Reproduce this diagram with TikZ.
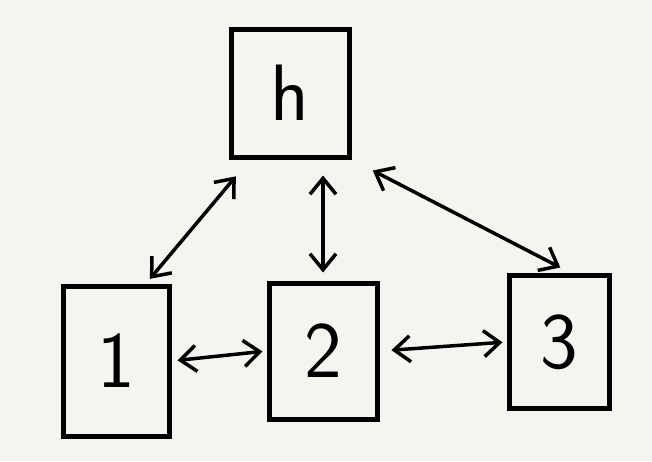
\documentclass[tikz,border=0pt]{standalone}
\usepackage{fontspec}
\usetikzlibrary{arrows.meta}

\definecolor{papel}{RGB}{245,244,240}

\tikzstyle{caja}= [rectangle,draw,black,line width=5pt,fill=papel,font=\sffamily\fontsize{80}{80}\selectfont]
\tikzstyle{flecha}= [black,line width=3.5pt,{Straight Barb[length=16pt,width=26pt]}-{Straight Barb[length=16pt,width=26pt]}]

\begin{document}
\begin{tikzpicture}[x=1pt,y=-1pt]
		\fill[papel] (0,0) rectangle (652,461);
		\useasboundingbox (0,0) rectangle (652,461);

		\node (h) at (290,93) [caja,minimum width=118pt,minimum height=128pt] {h};

		\node (1) at (116,361) [caja,minimum width=106pt,minimum height=150pt] {1};
		\node (2) at (323,351) [caja,minimum width=108pt,minimum height=136pt] {2};
		\node (3) at (559,342) [caja,minimum width=100pt,minimum height=133pt] {3};

		\path[flecha] ([xshift=-40pt]h.south) edge[shorten <=22pt,shorten >=6pt] node {} ([xshift=30pt]1.north);
		\path[flecha] ([xshift=33pt]h.south) edge[shorten <=16pt,shorten >=8pt] node {} ([xshift=0pt]2.north);
		\path[flecha] (h.south east) edge[shorten <=24pt,shorten >=12pt] node {} ([xshift=12pt]3.north);

		\path[flecha] (1.east) edge[shorten <=6pt,shorten >=4pt] node {} (2.west);
		\path[flecha] (2.east) edge[shorten <=12pt,shorten >=4pt] node {} (3.west);

		\end{tikzpicture}
\end{document}
